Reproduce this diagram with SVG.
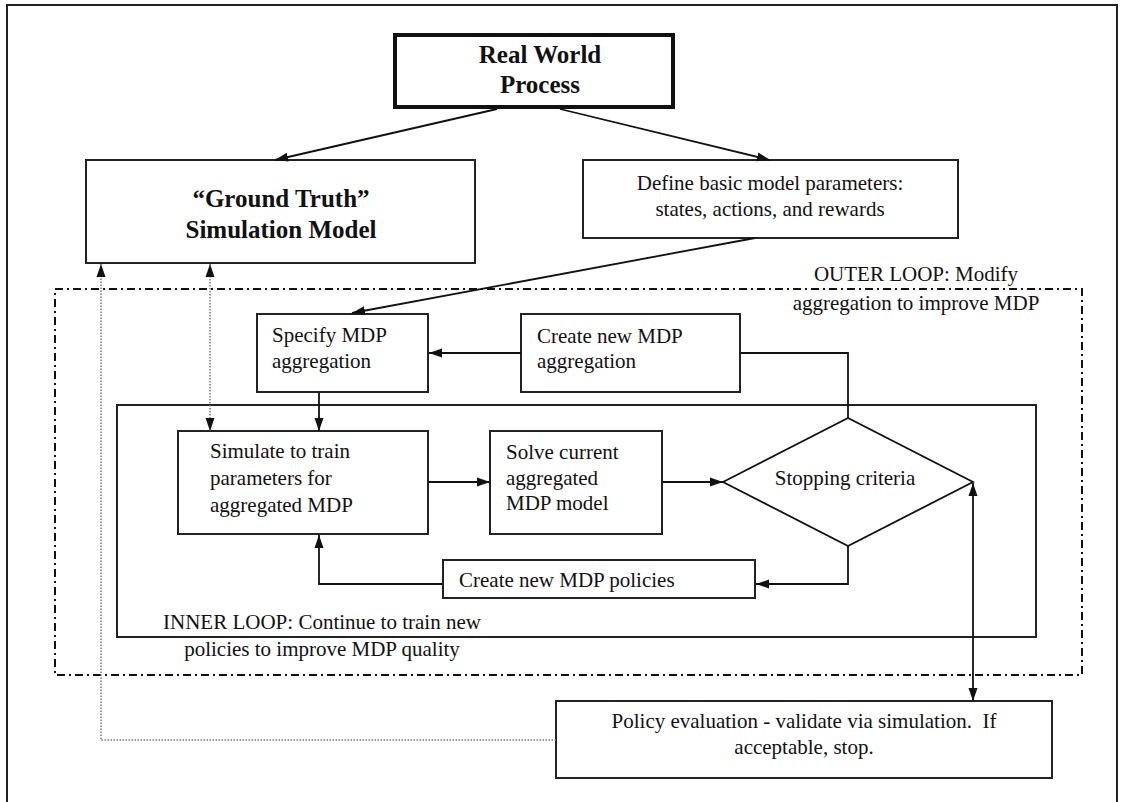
<svg xmlns="http://www.w3.org/2000/svg" width="1122" height="802" viewBox="0 0 1122 802">
<style>
text{font-family:"Liberation Serif","Times New Roman",serif;font-size:21px;fill:#111}
.b{font-weight:bold;font-size:25px}
.m{text-anchor:middle}
.box{fill:#fff;stroke:#222;stroke-width:2}
.ln{fill:none;stroke:#111;stroke-width:1.8}
.dot{fill:none;stroke:#777;stroke-width:1.5;stroke-dasharray:1.5,1.5}
</style>
<defs>
<marker id="ah" markerUnits="userSpaceOnUse" markerWidth="14" markerHeight="10" refX="13" refY="5" orient="auto-start-reverse"><path d="M0,0.5 L13,5 L0,9.5 z" fill="#111"/></marker>
</defs>
<rect x="7" y="5" width="1110" height="820" fill="#fff" stroke="#222" stroke-width="2"/>
<g id="outer-loop">
<rect x="55" y="289" width="1027" height="386" fill="none" stroke="#111" stroke-width="2" stroke-dasharray="8,4,2,4"/>
<text class="m" x="916" y="281">OUTER LOOP: Modify</text>
<text class="m" x="916" y="310">aggregation to improve MDP</text>
</g>
<g id="inner-loop">
<rect x="117" y="405" width="919" height="232" fill="none" stroke="#222" stroke-width="2"/>
<text class="m" x="322" y="629">INNER LOOP: Continue to train new</text>
<text class="m" x="322" y="656">policies to improve MDP quality</text>
</g>
<g id="real-world">
<rect x="395" y="35" width="278" height="72" fill="#fff" stroke="#111" stroke-width="4"/>
<text class="b m" x="540" y="63">Real World</text>
<text class="b m" x="540" y="93">Process</text>
</g>
<g id="ground-truth">
<rect class="box" x="86" y="160" width="389" height="103"/>
<text class="b m" x="281" y="207">“Ground Truth”</text>
<text class="b m" x="281" y="238">Simulation Model</text>
</g>
<g id="define">
<rect class="box" x="583" y="160" width="375" height="78"/>
<text class="m" x="770" y="190">Define basic model parameters:</text>
<text class="m" x="770" y="216">states, actions, and rewards</text>
</g>
<g id="specify">
<rect class="box" x="257" y="314" width="171" height="78"/>
<text x="272" y="342">Specify MDP</text>
<text x="272" y="368">aggregation</text>
</g>
<g id="create-agg">
<rect class="box" x="521" y="314" width="219" height="78"/>
<text x="537" y="343">Create new MDP</text>
<text x="537" y="368">aggregation</text>
</g>
<g id="simulate">
<rect class="box" x="178" y="431" width="250" height="103"/>
<text x="210" y="458">Simulate to train</text>
<text x="210" y="485">parameters for</text>
<text x="210" y="512">aggregated MDP</text>
</g>
<g id="solve">
<rect class="box" x="490" y="431" width="172" height="103"/>
<text x="506" y="459">Solve current</text>
<text x="506" y="485">aggregated</text>
<text x="506" y="510">MDP model</text>
</g>
<g id="stopping">
<polygon points="723,482 848,418 973,482 848,546" fill="#fff" stroke="#111" stroke-width="1.8"/>
<text class="m" x="845" y="485">Stopping criteria</text>
</g>
<g id="policies">
<rect class="box" x="443" y="560" width="312" height="38"/>
<text x="459" y="587">Create new MDP policies</text>
</g>
<g id="policy-eval">
<rect class="box" x="556" y="701" width="496" height="77"/>
<text class="m" x="804" y="728">Policy evaluation - validate via simulation.&#160; If</text>
<text class="m" x="804" y="754">acceptable, stop.</text>
</g>
<g id="connectors">
<line class="ln" x1="497" y1="109" x2="275" y2="160" marker-end="url(#ah)"/>
<line class="ln" x1="560" y1="109" x2="770" y2="160" marker-end="url(#ah)"/>
<line class="ln" x1="755" y1="238" x2="352" y2="313" marker-end="url(#ah)"/>
<line class="ln" x1="521" y1="353" x2="429" y2="353" marker-end="url(#ah)"/>
<polyline class="ln" points="848,418 848,353 740,353"/>
<line class="ln" x1="319" y1="392" x2="319" y2="431" marker-end="url(#ah)"/>
<line class="ln" x1="428" y1="482" x2="490" y2="482" marker-end="url(#ah)"/>
<line class="ln" x1="662" y1="482" x2="723" y2="482" marker-end="url(#ah)"/>
<polyline class="ln" points="848,546 848,584 756,584" marker-end="url(#ah)"/>
<polyline class="ln" points="443,584 319,584 319,535" marker-end="url(#ah)"/>
<line class="ln" x1="973" y1="483" x2="973" y2="701" marker-start="url(#ah)" marker-end="url(#ah)"/>
<line class="dot" x1="210" y1="264" x2="210" y2="431" marker-start="url(#ah)" marker-end="url(#ah)"/>
<polyline class="dot" points="556,740 101,740 101,264" marker-end="url(#ah)"/>
</g>
</svg>
